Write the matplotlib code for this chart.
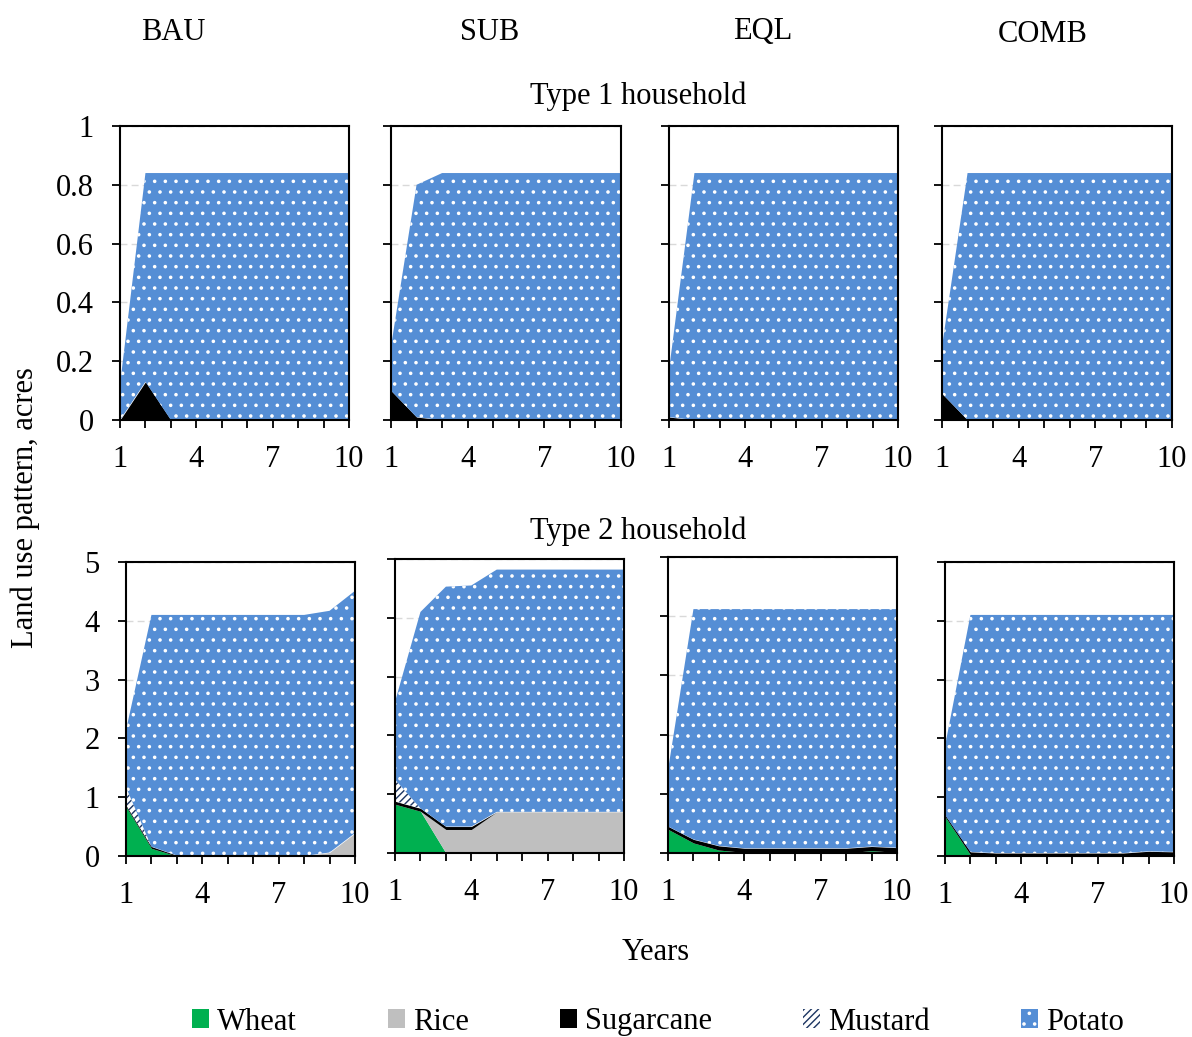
import numpy as np
import matplotlib
matplotlib.use("Agg")
import matplotlib.pyplot as plt
from matplotlib.patches import Patch

# 用较低的 dpi 让点状填充更密 (hatch 单位 = 1 英寸)
DPI = 64
S = 100 / DPI  # 把 100dpi 下的 pt 值换算过来

plt.rcParams['font.family'] = ['Liberation Serif', 'DejaVu Serif']
plt.rcParams['hatch.linewidth'] = 1.6

# 数据
years = np.arange(1, 11)
scenarios = ['BAU', 'SUB', 'EQL', 'COMB']
crops = ['Wheat', 'Rice', 'Sugarcane', 'Mustard', 'Potato']
xtick_labels = ['1', '', '', '4', '', '', '7', '', '', '10']
ytick_labels_t1 = ['0', '0.2', '0.4', '0.6', '0.8', '1']
ytick_labels_t2 = ['0', '1', '2', '3', '4', '5']

# Type 1 household
t1_wheat = {s: [0]*10 for s in scenarios}
t1_rice = {s: [0]*10 for s in scenarios}
t1_mustard = {s: [0]*10 for s in scenarios}
t1_sugar = {
    'BAU':  [0, 0.13, 0, 0, 0, 0, 0, 0, 0, 0],
    'SUB':  [0.10, 0.01, 0, 0, 0, 0, 0, 0, 0, 0],
    'EQL':  [0.01, 0, 0, 0, 0, 0, 0, 0, 0, 0],
    'COMB': [0.09, 0, 0, 0, 0, 0, 0, 0, 0, 0],
}
t1_potato = {
    'BAU':  [0.12, 0.71, 0.84, 0.84, 0.84, 0.84, 0.84, 0.84, 0.84, 0.84],
    'SUB':  [0.15, 0.79, 0.84, 0.84, 0.84, 0.84, 0.84, 0.84, 0.84, 0.84],
    'EQL':  [0.16, 0.84, 0.84, 0.84, 0.84, 0.84, 0.84, 0.84, 0.84, 0.84],
    'COMB': [0.16, 0.84, 0.84, 0.84, 0.84, 0.84, 0.84, 0.84, 0.84, 0.84],
}

# Type 2 household
t2_wheat = {
    'BAU':  [0.84, 0.13, 0, 0, 0, 0, 0, 0, 0, 0],
    'SUB':  [0.83, 0.71, 0, 0, 0, 0, 0, 0, 0, 0],
    'EQL':  [0.40, 0.17, 0.05, 0.01, 0, 0, 0, 0, 0.04, 0.01],
    'COMB': [0.67, 0.02, 0, 0, 0, 0, 0, 0, 0.02, 0.01],
}
t2_rice = {
    'BAU':  [0, 0, 0, 0, 0, 0, 0, 0, 0.06, 0.39],
    'SUB':  [0, 0, 0.40, 0.40, 0.70, 0.70, 0.70, 0.70, 0.70, 0.70],
    'EQL':  [0]*10,
    'COMB': [0]*10,
}
t2_sugar = {
    'BAU':  [0.03, 0.03, 0.01, 0, 0, 0, 0, 0, 0, 0],
    'SUB':  [0.05, 0.05, 0.05, 0.05, 0, 0, 0, 0, 0, 0],
    'EQL':  [0.05, 0.06, 0.07, 0.07, 0.08, 0.08, 0.08, 0.08, 0.07, 0.08],
    'COMB': [0.03, 0.05, 0.05, 0.05, 0.05, 0.05, 0.05, 0.05, 0.06, 0.06],
}
t2_mustard = {
    'BAU':  [0.30, 0, 0, 0, 0, 0, 0, 0, 0, 0],
    'SUB':  [0.37, 0, 0, 0, 0, 0, 0, 0, 0, 0],
    'EQL':  [0]*10,
    'COMB': [0]*10,
}
t2_potato = {
    'BAU':  [0.97, 3.94, 4.09, 4.10, 4.10, 4.10, 4.10, 4.10, 4.11, 4.12],
    'SUB':  [1.32, 3.34, 4.08, 4.10, 4.12, 4.12, 4.12, 4.12, 4.12, 4.12],
    'EQL':  [0.95, 3.89, 4.00, 4.04, 4.04, 4.04, 4.04, 4.04, 4.01, 4.03],
    'COMB': [1.17, 4.03, 4.05, 4.05, 4.05, 4.05, 4.05, 4.05, 4.02, 4.03],
}

colors = {'Wheat': '#00B050', 'Rice': '#BFBFBF', 'Sugarcane': '#000000',
          'Mustard': '#FFFFFF', 'Potato': '#558ED5'}
edges = {'Wheat': '#00B050', 'Rice': '#BFBFBF', 'Sugarcane': '#000000',
         'Mustard': '#1F3864', 'Potato': '#FFFFFF'}
hatches = {'Wheat': None, 'Rice': None, 'Sugarcane': None,
           'Mustard': '///', 'Potato': '.'}

FS = 22 * S
W, H = 1192, 1037
fig = plt.figure(figsize=(W/DPI, H/DPI), dpi=DPI)

# 轴的位置 (像素): left, right, top, bottom
pos_t1 = [(120, 349, 126, 420), (391, 621, 126, 420), (669, 898, 126, 420), (942, 1172, 126, 420)]
pos_t2 = [(126, 355, 562, 856), (395, 624, 559, 853), (668, 897, 557, 853), (945, 1174, 562, 856)]


def add_ax(p):
    l, r, t, b = p
    return fig.add_axes([l/W, 1 - b/H, (r - l)/W, (b - t)/H])


def draw_panel(ax, layers, ymax, yticklabels, first):
    base = np.zeros(10)
    for name, vals in zip(crops, layers):
        top = base + np.array(vals, dtype=float)
        ax.fill_between(years, base, top, facecolor=colors[name], edgecolor=edges[name],
                        hatch=hatches[name], linewidth=0)
        base = top
    ax.set_xlim(1, 10)
    ax.set_ylim(0, ymax)
    ax.set_xticks(years)
    ax.set_xticklabels(xtick_labels)
    ax.set_yticks(np.linspace(0, ymax, 6))
    ax.set_yticklabels(yticklabels)
    ax.grid(axis='y', color='#D9D9D9', linestyle=(0, (5, 3)), linewidth=1 * S)
    ax.set_axisbelow(True)
    ax.tick_params(axis='x', direction='out', length=6 * S, width=1.3 * S, labelsize=FS, pad=12 * S)
    ax.tick_params(axis='y', direction='out', length=6 * S, width=1.3 * S, labelsize=FS, pad=13 * S)
    if not first:
        ax.tick_params(labelleft=False)
    for sp in ax.spines.values():
        sp.set_linewidth(1.5 * S)


for i, s in enumerate(scenarios):
    ax = add_ax(pos_t1[i])
    draw_panel(ax, [t1_wheat[s], t1_rice[s], t1_sugar[s], t1_mustard[s], t1_potato[s]],
               1, ytick_labels_t1, i == 0)
    ax = add_ax(pos_t2[i])
    draw_panel(ax, [t2_wheat[s], t2_rice[s], t2_sugar[s], t2_mustard[s], t2_potato[s]],
               5, ytick_labels_t2, i == 0)

# 标题
title_x = [173, 490, 763, 1043]
title_y = [32, 32, 32, 35]
for s, x, y in zip(scenarios, title_x, title_y):
    fig.text(x/W, 1 - y/H, s, ha='center', va='center', fontsize=FS)
fig.text(638/W, 1 - 96/H, 'Type 1 household', ha='center', va='center', fontsize=FS)
fig.text(638/W, 1 - 531/H, 'Type 2 household', ha='center', va='center', fontsize=FS)
fig.text(25/W, 1 - 508/H, 'Land use pattern, acres', ha='center', va='center',
         rotation=90, fontsize=FS)
fig.text(656/W, 1 - 953/H, 'Years', ha='center', va='center', fontsize=FS)

handles = [Patch(facecolor=colors[c], edgecolor=edges[c], hatch=hatches[c], linewidth=0, label=c)
           for c in crops]
fig.legend(handles=handles, loc='center', bbox_to_anchor=(658/W, 1 - 1022/H), ncol=5,
           frameon=False, fontsize=FS, handlelength=0.55, handleheight=0.55,
           handletextpad=0.25, columnspacing=3.0)

fig.savefig('out.png', dpi=DPI)
